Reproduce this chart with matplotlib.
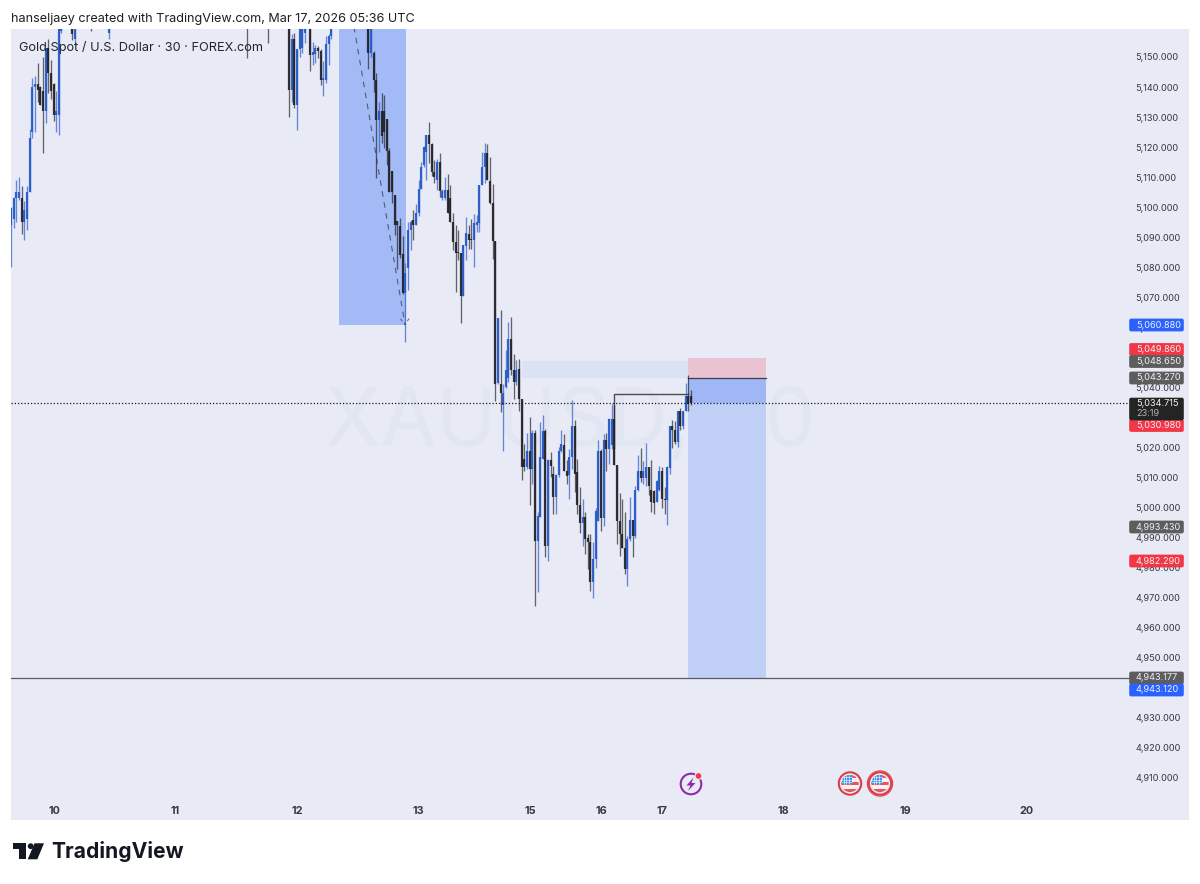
"""XAUUSD 30 min short setup, TradingView snapshot redrawn with matplotlib."""

import matplotlib.pyplot as plt
import numpy as np
from matplotlib.patches import Circle, FancyBboxPatch, Polygon, Rectangle

plt.rcParams["font.family"] = ["Inter", "DejaVu Sans"]

# ── Data ───────────────────────────────────────────────────────────────────────
bar_index = (
    list(range(0, 20))
    + [23, 24, 30, 37, 89, 97]
    + list(range(105, 112))
    + list(range(113, 122))
    + list(range(135, 258))
)
opens = [
    5094, 5096, 5103, 5103, 5103, 5095, 5096, 5105, 5125, 5140,
    5141, 5140, 5138.6, 5132, 5153, 5144.7, 5141, 5130.6, 5130.6, 5158.5,
    5170, 5156, 5172, 5158, 5172, 5172,
    5170, 5139, 5156, 5134, 5152.5, 5153, 5158,
    5170, 5150.6, 5151, 5153, 5152, 5142.5, 5142.5, 5154.4, 5157,
    5170, 5151.4, 5151.4, 5142.5, 5129, 5132, 5132, 5129.5, 5118.6, 5112,
    5104, 5095.3, 5093.6, 5084.4, 5071.5, 5079.6, 5092.3, 5095.7, 5094, 5098,
    5106, 5114, 5118.4, 5124, 5121, 5111.8, 5109, 5115, 5103, 5103,
    5105.7, 5103, 5095, 5088.4, 5085, 5084.6, 5070.3, 5087, 5091, 5089.5,
    5089, 5094, 5094.6, 5107.3, 5113.4, 5118, 5108.8, 5101.4, 5088.8, 5041.4,
    5041.2, 5034, 5040, 5043, 5056, 5045.7, 5041.8, 5046, 5036.2, 5016.2,
    5013.4, 5018.8, 5012.9, 5025, 4989, 4996.8, 5016.2, 5025.4, 4987.3, 5015.9,
    5011.2, 5003.4, 5010.7, 5018.8, 5021, 5012.3, 5010.7, 5016.8, 5027.3, 5011.8,
    5000.7, 4994.8, 4996.8, 4990, 4988.5, 4975.1, 4982.9, 4995.4, 5019, 4996.7,
    5022.5, 5019.5, 5021, 5029.5, 5014.3, 4995.6, 4991.2, 4986.7, 4979.5, 4989.5,
    4995.9, 4990.6, 5005.9, 5012.3, 5010, 5010, 5013.6, 5005.9, 5005.6, 5002,
    5005.9, 5012.3, 5002.9, 5002.5, 5013.2, 5027.3, 5025.9, 5022, 5032.3, 5027,
    5032.3, 5037.3, 5037,
]
highs = [
    5100, 5103.5, 5109, 5110, 5107, 5102, 5107, 5126, 5143, 5143.6,
    5148, 5140.5, 5150, 5153, 5156, 5149, 5141.5, 5138.6, 5172, 5172,
    5172, 5172, 5173, 5172, 5173, 5173,
    5172, 5157.5, 5158, 5152.5, 5172, 5172, 5172,
    5172, 5155, 5154, 5153.6, 5152.5, 5148.8, 5157, 5157.5, 5172,
    5172, 5172, 5152, 5144.7, 5135, 5138, 5137.5, 5129.5, 5119.7, 5112,
    5104, 5095.3, 5096.4, 5090.3, 5081.4, 5095, 5095.7, 5099, 5101, 5109,
    5115, 5120.3, 5124, 5128.4, 5121.4, 5115.7, 5116, 5118, 5106.2, 5110,
    5111, 5107.3, 5098, 5094, 5092.3, 5084.6, 5087.3, 5096.8, 5094, 5096,
    5097.7, 5097.3, 5107.3, 5118.4, 5121.4, 5121, 5116.6, 5107.7, 5088.8, 5063,
    5065.7, 5041, 5052.6, 5061.8, 5063.4, 5051.2, 5049, 5049.6, 5036.2, 5021.2,
    5025, 5030.3, 5025.7, 5025.7, 4998.4, 5028.4, 5030.7, 5026.2, 5016.2, 5018.4,
    5014, 5011.2, 5020.3, 5025.9, 5024.6, 5015.7, 5019.6, 5035.9, 5029, 5016.2,
    5006.8, 5002.9, 4998.4, 4991.2, 4991.2, 4988.5, 5000, 5022.5, 5019.5, 5024.5,
    5025, 5029.9, 5034.5, 5034, 5014.3, 5005, 5002.9, 4998.4, 4990.6, 5003.4,
    4995.9, 5007.3, 5017.6, 5019.9, 5015.6, 5021.4, 5013.6, 5015.9, 5005.9, 5009.2,
    5014, 5013.4, 5007, 5014, 5027.3, 5029.2, 5028.7, 5032.3, 5033.2, 5032.3,
    5041.4, 5044, 5039,
]
lows = [
    5080, 5093, 5095, 5102.5, 5091, 5089, 5092.5, 5105, 5123, 5125,
    5135, 5134, 5118, 5128, 5138, 5136, 5128.6, 5125, 5124, 5158,
    5155.7, 5154, 5158.7, 5156, 5149.7, 5154.5,
    5130, 5135, 5133, 5125.8, 5150, 5151.4, 5154.7,
    5145.5, 5147.5, 5148, 5149.7, 5140.6, 5137, 5141.4, 5147.3, 5156,
    5146, 5150, 5138.4, 5109.7, 5118.4, 5121.4, 5119.7, 5114, 5105, 5101.4,
    5090.8, 5079.5, 5083, 5071, 5055, 5072.3, 5085.7, 5089, 5094, 5097,
    5106, 5113.4, 5109, 5114.8, 5110.3, 5108, 5105.7, 5103.4, 5102.5, 5102.5,
    5098, 5095, 5085.7, 5071.8, 5082.3, 5061.4, 5070.3, 5082.3, 5086, 5086,
    5080, 5091.8, 5091.8, 5107.3, 5108, 5109, 5101, 5082.6, 5035.4, 5041,
    5031.8, 5019, 5039.9, 5041.8, 5044, 5036, 5040.7, 5032, 5009.2, 5012.3,
    5012.9, 5000.7, 5007.9, 4967.3, 4971.8, 4996.8, 5016.2, 4983.7, 4982.3, 5010.1,
    4997.9, 4997.9, 5010.3, 5018.4, 5012.3, 5007.9, 5002.9, 5012.9, 5005.1, 4997.9,
    4991.4, 4987.3, 4984.5, 4979.6, 4972.3, 4969.9, 4980, 4995.4, 4992.3, 4994,
    5012.3, 5014.5, 5019.5, 5014.3, 4987.9, 4984, 4986.7, 4977.9, 4974, 4989,
    4983.6, 4990, 5005.6, 5008.4, 5007.9, 5007.3, 5004.3, 4998.4, 4998, 5001.7,
    5005.6, 4999.9, 4998, 4994.3, 5011.2, 5019.9, 5021.2, 5020.3, 5025.9, 5026.2,
    5032, 5032.3, 5034,
]
closes = [
    5099.7, 5103, 5105, 5105, 5095, 5099, 5105, 5123, 5140, 5141,
    5139, 5134, 5132, 5153, 5144.7, 5138.6, 5130.6, 5132, 5170, 5170,
    5157.7, 5170, 5170, 5170, 5170, 5170,
    5139, 5156, 5134, 5152.5, 5170, 5170, 5170,
    5150.6, 5151.7, 5153, 5152, 5142.5, 5143, 5154.4, 5157, 5170,
    5151.4, 5170, 5142.5, 5129, 5132, 5123.6, 5125, 5118.6, 5105, 5105,
    5094, 5094, 5084, 5071.4, 5078, 5092.3, 5095, 5094, 5098, 5106,
    5113.4, 5120, 5124, 5121, 5111.8, 5110, 5115, 5105.4, 5105.4, 5105.7,
    5098, 5095, 5088.4, 5084.6, 5084.6, 5070.3, 5087.3, 5091.4, 5089, 5089,
    5094.8, 5095, 5107.3, 5113.4, 5118, 5109, 5101.4, 5088.8, 5041, 5063,
    5038, 5038, 5045.7, 5056, 5045.7, 5041.8, 5045.9, 5036.2, 5013.4, 5013.4,
    5018.8, 5012.9, 5025, 4989, 4997.3, 5016.8, 5025.4, 4987.3, 5015.9, 5014,
    5003.4, 5010.7, 5019, 5021.2, 5012.3, 5010.5, 5016.8, 5027.3, 5011.2, 5000.7,
    4994.8, 4996.8, 4989.6, 4988.5, 4975.1, 4982.9, 4998.8, 5019, 4996.7, 5022.5,
    5019.5, 5029.5, 5029.5, 5014.3, 4995.6, 4991.2, 4986.7, 4979.5, 4989.5, 4995.9,
    4990.6, 5005.9, 5012.3, 5009.9, 5012.3, 5013.6, 5007.3, 5001.7, 5001.4, 5009,
    5012.3, 5002.9, 5002.5, 5013.4, 5027.3, 5025.9, 5021.7, 5032.3, 5027, 5032,
    5037.3, 5034.5, 5034.715,
]

price_ticks = list(range(4910, 5160, 10))
day_labels = ["10", "11", "12", "13", "15", "16", "17", "18", "19", "20"]
day_bars = [16.2, 62, 108, 154, 196.1, 223, 246, 292, 338, 384]

current_price = 5034.715
target_line = 4943.177
pullback_zone = [5060.88, 5172]
entry_band = [5043.27, 5048.65]
stop_zone = [5043.27, 5049.86]
profit_zone = [4943.12, 5043.27]
swing_level = 5037.9

badge_texts = ["5,060.880", "5,049.860", "5,048.650", "5,043.270", "5,030.980",
               "4,993.430", "4,982.290", "4,943.177", "4,943.120"]
badge_kinds = ["blue", "red", "gray", "gray", "red", "gray", "red", "gray", "blue"]

# ── Style ──────────────────────────────────────────────────────────────────────
BG = "#e8eaf6"
UP = "#2458c8"
DOWN = "#222226"
BADGE = {"blue": "#2962ff", "red": "#f23645", "gray": "#5d5d5d", "dark": "#242424"}
badge_rows = [325, 349.5, 361.5, 378, 425.5, 527, 561, 678, 690]

W, H = 1200, 884
LEFT, RIGHT, TOP, BOTTOM = 11, 1189, 29, 820
BAR_X0, BAR_STEP = 11.2, 2.645
SCALE_BAR = (1129 - BAR_X0) / BAR_STEP  # where the price scale starts


def draw_candles(ax):
    xs = np.array(bar_index, dtype=float)
    o, h, l, c = map(np.array, (opens, highs, lows, closes))
    colors = np.where(c >= o, UP, DOWN)
    ax.vlines(xs, l, h, colors=colors, linewidth=0.95, alpha=0.68, zorder=5)
    ax.vlines(xs, np.minimum(o, c), np.maximum(o, c), colors=colors,
              linewidth=1.6, alpha=0.92, zorder=6)


def draw_position(ax):
    # pullback box + its dashed leg
    ax.add_patch(Rectangle((124.1, pullback_zone[0]), 25.15,
                           pullback_zone[1] - pullback_zone[0],
                           fc="#a2baf6", ec="none", zorder=2))
    ax.plot([129.6, 148.9], [5160, pullback_zone[0]], color="#555a70", lw=0.8,
            ls=(0, (5, 5)), zorder=3)
    ax.plot([147.2, 148.9, 150.6], [5062.8, pullback_zone[0], 5063.2],
            color="#555a70", lw=0.7, ls=(0, (3, 3)), zorder=3)

    # short position boxes
    ax.add_patch(Rectangle((193.1, entry_band[0]), 62.8,
                           entry_band[1] - entry_band[0],
                           fc="#dce2f5", ec="none", zorder=2))
    ax.add_patch(Rectangle((255.9, stop_zone[0]), 29.5,
                           stop_zone[1] - stop_zone[0],
                           fc="#e9c4d0", ec="none", zorder=2))
    ax.add_patch(Rectangle((255.9, profit_zone[0]), 29.5,
                           profit_zone[1] - profit_zone[0],
                           fc="#bfcff6", ec="none", zorder=2))
    ax.add_patch(Rectangle((255.9, current_price), 29.5,
                           profit_zone[1] - current_price,
                           fc="#9fb7f6", ec="none", zorder=2))
    ax.plot([255.9, 285.4], [stop_zone[0]] * 2, color="#3c3f4c", lw=0.9, zorder=4)

    # swing level step line
    ax.plot([228, 228, 256], [5020, swing_level, swing_level], color="#4d4d4d",
            lw=1.0, zorder=4)

    # horizontals stop at the price scale
    xmin = ax.get_xlim()[0]
    ax.plot([xmin, SCALE_BAR], [target_line] * 2, color="#5a5d68", lw=0.9, zorder=4)
    ax.plot([xmin, SCALE_BAR], [current_price] * 2, color="#1a1a1a", lw=0.9,
            ls=(0, (1, 1.6)), zorder=7)


def draw_badges(ov):
    for text, kind, row in zip(badge_texts, badge_kinds, badge_rows):
        ov.add_patch(FancyBboxPatch((1130, row - 5.6), 53, 11.2,
                                    boxstyle="round,pad=0.8,rounding_size=2",
                                    fc=BADGE[kind], ec="none", zorder=10))
        ov.text(1136, row, text, color="#eef0f8", fontsize=6.6, va="center",
                ha="left", zorder=11)
    # current price has the countdown under it
    ov.add_patch(FancyBboxPatch((1130, 398.5), 53, 21,
                                boxstyle="round,pad=0.8,rounding_size=2",
                                fc=BADGE["dark"], ec="none", zorder=10))
    ov.text(1136, 403.5, f"{current_price:,.3f}", color="#f2f2f2", fontsize=6.6,
            va="center", zorder=11)
    ov.text(1136, 413.5, "23:19", color="#b4b4b4", fontsize=6.6, va="center", zorder=11)


def draw_flag(ov, cx, cy, double=False):
    ov.add_patch(Circle((cx, cy), 11.2, fc="none", ec="#e03c46", lw=1.5, zorder=8))
    if double:
        ov.add_patch(Circle((cx, cy), 12.6, fc="none", ec="#e03c46", lw=0.8, zorder=8))
    clip = Circle((cx, cy), 8.6, transform=ov.transData)
    for i, color in enumerate(["#e8555e", "#f4f4f6", "#e8555e", "#f4f4f6", "#e8555e"]):
        strip = Rectangle((cx - 9, cy - 9 + i * 3.6), 18, 3.6, fc=color, ec="none", zorder=8)
        ov.add_patch(strip)
        strip.set_clip_path(clip)
    canton = Rectangle((cx - 9, cy - 9), 10.5, 9, fc="#4a90e2", ec="none", zorder=9)
    ov.add_patch(canton)
    canton.set_clip_path(clip)
    for off in (2.5, 5, 7.5):
        grid_v, = ov.plot([cx - 9 + off] * 2, [cy - 9, cy], color="white", lw=0.4, zorder=9)
        grid_h, = ov.plot([cx - 9, cx + 1.5], [cy - 9 + off] * 2, color="white", lw=0.4, zorder=9)
        grid_v.set_clip_path(clip)
        grid_h.set_clip_path(clip)


def draw_chrome(ov):
    ov.text(11, 19, "hanseljaey created with TradingView.com, Mar 17, 2026 05:36 UTC",
            fontsize=9.1, color="#1f1f1f", va="center", ha="left")
    ov.text(19, 47.5, "Gold Spot / U.S. Dollar · 30 · FOREX.com", fontsize=9.2,
            color="#23252d", va="center", ha="left", zorder=12)

    # economic event markers
    ov.add_patch(Circle((691, 784), 10.3, fc="none", ec="#8e2ba8", lw=1.5, zorder=8))
    ov.add_patch(Polygon([(693.5, 777.5), (686.5, 785.5), (690.5, 785.5), (688, 791),
                          (695.5, 783), (691.5, 783)], fc="#8e2ba8", ec="none", zorder=9))
    ov.add_patch(Circle((698.5, 776), 3.4, fc="#ef3a4a", ec=BG, lw=0.8, zorder=9))
    draw_flag(ov, 850, 783.5)
    draw_flag(ov, 880, 783.5, double=True)

    # TradingView logo
    ov.add_patch(Polygon([(12.7, 843.3), (26, 843.3), (26, 859.3), (19.3, 859.3),
                          (19.3, 849.3), (12.7, 849.3)], fc="#131722", ec="none"))
    ov.add_patch(Circle((30.7, 846.2), 2.9, fc="#131722", ec="none"))
    ov.add_patch(Polygon([(34.5, 843.3), (44, 843.3), (37.3, 859.3), (27.7, 859.3)],
                         fc="#131722", ec="none"))
    ov.text(51, 852, "TradingView", fontsize=15.2, fontweight="bold",
            color="#131722", va="center", ha="left")


def main():
    fig = plt.figure(figsize=(W / 100, H / 100), dpi=100, facecolor="white")
    ax = fig.add_axes([LEFT / W, 1 - BOTTOM / H, (RIGHT - LEFT) / W, (BOTTOM - TOP) / H])
    ax.set_facecolor(BG)
    ax.set_xlim((LEFT - BAR_X0) / BAR_STEP, (RIGHT - BAR_X0) / BAR_STEP)
    ax.set_ylim(5150 - (BOTTOM - 57) / 3.004, 5150 + (57 - TOP) / 3.004)
    for spine in ax.spines.values():
        spine.set_visible(False)

    # ticks are drawn inside the axes, like TradingView's scales
    ax.yaxis.tick_right()
    ax.set_yticks(price_ticks)
    ax.set_yticklabels([f"{p:,.3f}" for p in price_ticks], fontsize=6.6, color="#353842")
    ax.tick_params(axis="y", length=0, pad=-38.5)
    ax.set_xticks(day_bars)
    ax.set_xticklabels(day_labels, fontsize=7.8, fontweight="bold", color="#353842")
    ax.tick_params(axis="x", length=0, pad=-10)

    # watermark
    ax.text(0.4745, 0.5, "XAUUSD, 30", transform=ax.transAxes, fontsize=58.5,
            color="#e2e5f2", ha="center", va="center", zorder=1)

    draw_position(ax)
    draw_candles(ax)

    # overlay in pixel coordinates for scale badges, icons and page texts
    ov = fig.add_axes([0, 0, 1, 1], zorder=5)
    ov.set_xlim(0, W)
    ov.set_ylim(H, 0)
    ov.axis("off")
    draw_badges(ov)
    draw_chrome(ov)

    fig.savefig("out.png", dpi=100)
    plt.close(fig)


if __name__ == "__main__":
    main()
